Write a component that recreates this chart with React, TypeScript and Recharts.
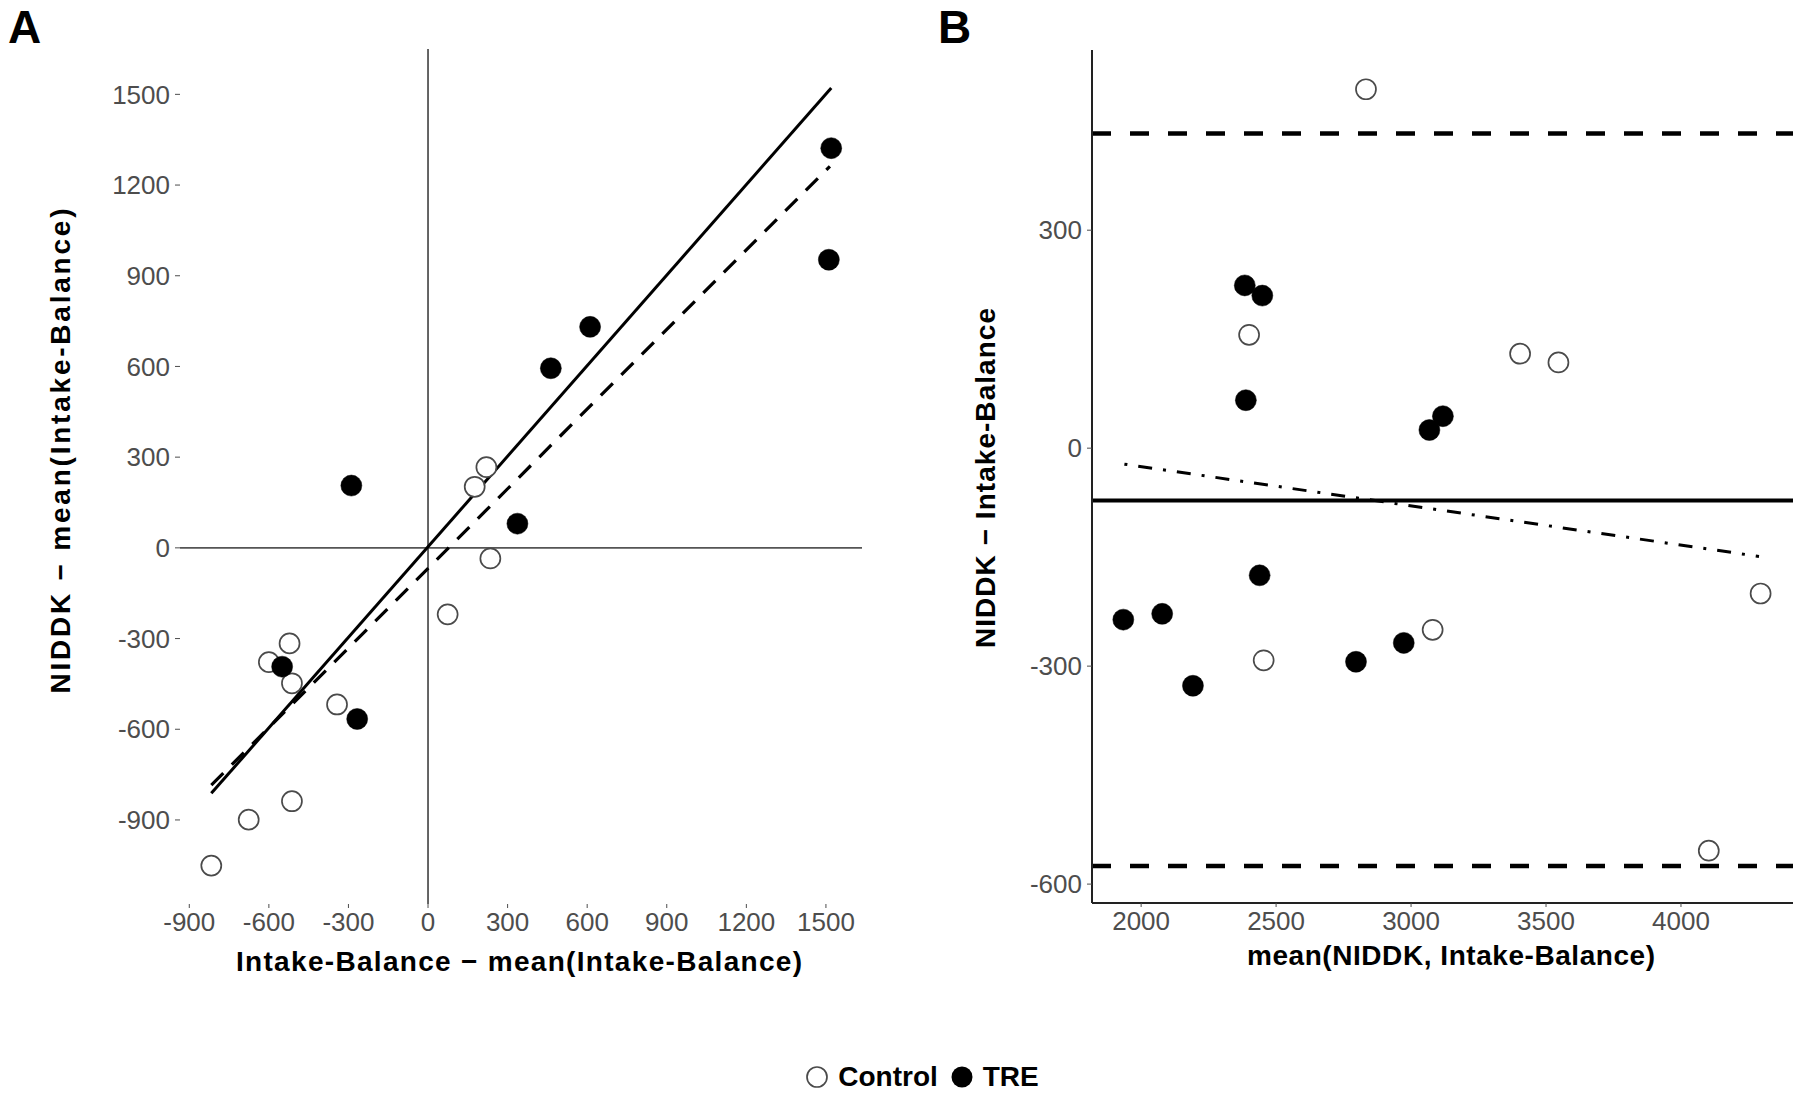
import React from 'react';
import { ScatterChart, Scatter, XAxis, YAxis, ReferenceLine, Label } from 'recharts';

// Panel A: deviation of NIDDK vs deviation of Intake-Balance
const controlA = [
  { x: 235, y: -35 }, { x: 74, y: -220 }, { x: -522, y: -316 }, { x: -600, y: -378 },
  { x: -513, y: -448 }, { x: -343, y: -518 }, { x: -513, y: -838 }, { x: -676, y: -899 },
  { x: -817, y: -1051 }, { x: 220, y: 267 }, { x: 176, y: 202 },
];
const treA = [
  { x: 337, y: 80 }, { x: -550, y: -393 }, { x: -267, y: -566 }, { x: -289, y: 206 },
  { x: 463, y: 594 }, { x: 611, y: 731 }, { x: 1520, y: 1322 }, { x: 1511, y: 953 },
];
const identityLineA = [{ x: -817, y: -812 }, { x: 1520, y: 1521 }];
const fitLineA = [{ x: -817, y: -785 }, { x: 1515, y: 1262 }];
const ticksAX = [-900, -600, -300, 0, 300, 600, 900, 1200, 1500];
const ticksAY = [-900, -600, -300, 0, 300, 600, 900, 1200, 1500];

// Panel B: Bland-Altman
const controlB = [
  { x: 2833, y: 494 }, { x: 2400, y: 156 }, { x: 3404, y: 130 }, { x: 3546, y: 118 },
  { x: 2454, y: -292 }, { x: 3080, y: -250 }, { x: 4295, y: -200 }, { x: 4103, y: -554 },
];
const treB = [
  { x: 2384, y: 224 }, { x: 2449, y: 210 }, { x: 2388, y: 66 }, { x: 3068, y: 25 },
  { x: 3118, y: 44 }, { x: 2439, y: -175 }, { x: 1934, y: -236 }, { x: 2078, y: -228 },
  { x: 2192, y: -327 }, { x: 2796, y: -294 }, { x: 2973, y: -268 },
];
const meanDiffB = -72;
const limitsB = [433, -575];
const trendLineB = [{ x: 1938, y: -22 }, { x: 4289, y: -149 }];
const ticksBX = [2000, 2500, 3000, 3500, 4000];
const ticksBY = [-600, -300, 0, 300];

const FONT = '"Liberation Sans", Arial, Helvetica, sans-serif';
const tickStyle = { fill: '#4d4d4d', fontSize: 26, fontFamily: FONT };

const OpenDot = (props: any) => (
  <circle cx={props.cx} cy={props.cy} r={10} fill="#fff" stroke="#4a4a4a" strokeWidth={1.7} />
);
const FilledDot = (props: any) => (
  <circle cx={props.cx} cy={props.cy} r={10.5} fill="#000" stroke="#000" strokeWidth={0.5} />
);

const Title = ({ x, y, text, len, rotate }: { x: number; y: number; text: string; len: number; rotate?: boolean }) => (
  <text
    x={x}
    y={y}
    textAnchor="middle"
    dominantBaseline="central"
    fontFamily={FONT}
    fontWeight="bold"
    fontSize={28}
    fill="#000"
    textLength={len}
    lengthAdjust="spacing"
    transform={rotate ? `rotate(-90 ${x} ${y})` : undefined}
  >
    {text}
  </text>
);

const PanelA = () => (
  <ScatterChart width={900} height={1000} margin={{ top: 49, right: 38, left: 0, bottom: 36 }}>
    <XAxis
      type="number"
      dataKey="x"
      domain={[-935, 1636]}
      ticks={ticksAX}
      allowDataOverflow
      axisLine={false}
      tickLine={{ stroke: '#4d4d4d' }}
      tickSize={4}
      tickMargin={5}
      tick={tickStyle}
      height={60}
    >
      <Label content={() => <Title x={519} y={961} len={566} text="Intake-Balance − mean(Intake-Balance)" />} />
    </XAxis>
    <YAxis
      type="number"
      dataKey="y"
      domain={[-1178, 1650]}
      ticks={ticksAY}
      allowDataOverflow
      axisLine={false}
      tickLine={{ stroke: '#4d4d4d' }}
      tickSize={5}
      tickMargin={5}
      tick={tickStyle}
      width={180}
    >
      <Label content={() => <Title x={60} y={451} len={485} text="NIDDK − mean(Intake-Balance)" rotate />} />
    </YAxis>
    <ReferenceLine x={0} stroke="#555" strokeWidth={1.8} />
    <ReferenceLine y={0} stroke="#555" strokeWidth={1.8} />
    <ReferenceLine segment={identityLineA} stroke="#000" strokeWidth={3} />
    <ReferenceLine segment={fitLineA} stroke="#000" strokeWidth={3.2} strokeDasharray="17 12" />
    <Scatter data={controlA} shape={OpenDot} isAnimationActive={false} />
    <Scatter data={treA} shape={FilledDot} isAnimationActive={false} />
  </ScatterChart>
);

const PanelB = () => (
  <ScatterChart width={900} height={1000} margin={{ top: 50, right: 7, left: 0, bottom: 37 }}>
    <XAxis
      type="number"
      dataKey="x"
      domain={[1818, 4415]}
      ticks={ticksBX}
      allowDataOverflow
      axisLine={{ stroke: '#222', strokeWidth: 2 }}
      tickLine={{ stroke: '#4d4d4d' }}
      tickSize={4}
      tickMargin={5}
      tick={tickStyle}
      height={60}
    >
      <Label content={() => <Title x={551} y={955} len={408} text="mean(NIDDK, Intake-Balance)" />} />
    </XAxis>
    <YAxis
      type="number"
      dataKey="y"
      domain={[-626, 548]}
      ticks={ticksBY}
      allowDataOverflow
      axisLine={{ stroke: '#222', strokeWidth: 2 }}
      tickLine={{ stroke: '#4d4d4d' }}
      tickSize={5}
      tickMargin={5}
      tick={tickStyle}
      width={192}
    >
      <Label content={() => <Title x={85} y={478} len={340} text="NIDDK − Intake-Balance" rotate />} />
    </YAxis>
    <ReferenceLine y={limitsB[0]} stroke="#000" strokeWidth={4.5} strokeDasharray="19 19" />
    <ReferenceLine y={limitsB[1]} stroke="#000" strokeWidth={4.5} strokeDasharray="19 19" />
    <ReferenceLine y={meanDiffB} stroke="#000" strokeWidth={4} />
    <ReferenceLine segment={trendLineB} stroke="#000" strokeWidth={3} strokeDasharray="3 11 14 11" />
    <Scatter data={controlB} shape={OpenDot} isAnimationActive={false} />
    <Scatter data={treB} shape={FilledDot} isAnimationActive={false} />
  </ScatterChart>
);

export default function App() {
  return (
    <div style={{ position: 'absolute', left: 0, top: 0, width: 1800, height: 1095, background: '#fff', fontFamily: FONT }}>
      <div style={{ position: 'absolute', left: 0, top: 0 }}>
        <PanelA />
      </div>
      <div style={{ position: 'absolute', left: 900, top: 0 }}>
        <PanelB />
      </div>
      <div style={{ position: 'absolute', left: 8, top: 2, fontSize: 46, fontWeight: 'bold', lineHeight: '50px' }}>A</div>
      <div style={{ position: 'absolute', left: 938, top: 2, fontSize: 46, fontWeight: 'bold', lineHeight: '50px' }}>B</div>
      <div
        style={{
          position: 'absolute',
          left: 22,
          top: 1060,
          width: 1800,
          display: 'flex',
          justifyContent: 'center',
          alignItems: 'center',
          fontSize: 28,
          fontWeight: 'bold',
          lineHeight: '34px',
        }}
      >
        <svg width={24} height={24} style={{ marginRight: 9 }}>
          <circle cx={12} cy={12} r={10} fill="#fff" stroke="#4a4a4a" strokeWidth={1.7} />
        </svg>
        <span style={{ marginRight: 12 }}>Control</span>
        <svg width={24} height={24} style={{ marginRight: 9 }}>
          <circle cx={12} cy={12} r={10.5} fill="#000" />
        </svg>
        <span>TRE</span>
      </div>
    </div>
  );
}
